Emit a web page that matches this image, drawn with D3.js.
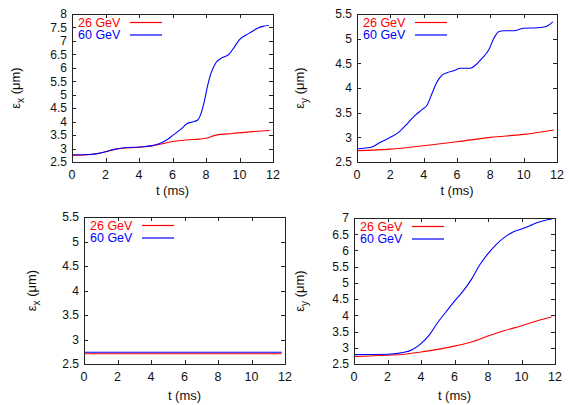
<!DOCTYPE html>
<html>
<head>
<meta charset="utf-8">
<script src="https://cdn.jsdelivr.net/npm/d3@7"></script>
<style>
  body { margin: 0; background: #fff; }
  svg { display: block; font-family: "Liberation Sans", Arial, sans-serif; }
</style>
</head>
<body>
<svg id="chart" width="569" height="405"></svg>
<script>
// ---- data (t in ms, emittance in um) ----
// top-left : eps_x
var tlT26 = [0, 1.4, 2, 2.5, 3, 4, 4.8, 5.4, 6, 6.8, 7.6, 8, 8.6, 9.6, 10.6, 11.8];
var tlE26 = [2.74, 2.8, 2.88, 2.96, 3.01, 3.05, 3.1, 3.18, 3.26, 3.32, 3.35, 3.38, 3.5, 3.56, 3.62, 3.67];
var tlT60 = [0, 1, 1.5, 2, 2.5, 3, 4, 4.6, 5.2, 5.6, 6, 6.5, 6.9, 7.2, 7.5, 7.7, 7.9, 8.1, 8.3, 8.6, 8.9, 9.4, 9.7, 10, 10.4, 10.7, 11.1, 11.4, 11.75];
var tlE60 = [2.77, 2.78, 2.81, 2.88, 2.97, 3.02, 3.06, 3.09, 3.18, 3.3, 3.48, 3.72, 3.94, 3.99, 4.06, 4.3, 4.75, 5.35, 5.8, 6.2, 6.35, 6.52, 6.78, 7.05, 7.22, 7.33, 7.48, 7.54, 7.57];

// top-right : eps_y
var trT26 = [0, 2, 4, 6, 8, 10, 11.8];
var trE26 = [2.73, 2.76, 2.83, 2.91, 3.0, 3.06, 3.15];
var trT60 = [0, 0.85, 1.4, 2, 2.5, 3, 3.5, 3.9, 4.2, 4.5, 4.8, 5.1, 5.4, 5.8, 6.2, 6.8, 7.1, 7.5, 7.9, 8.2, 8.5, 8.8, 9.4, 10, 10.8, 11.3, 11.75];
var trE60 = [2.77, 2.8, 2.9, 3.0, 3.1, 3.27, 3.45, 3.56, 3.65, 3.89, 4.12, 4.26, 4.31, 4.35, 4.4, 4.4, 4.46, 4.6, 4.77, 5.0, 5.14, 5.16, 5.16, 5.21, 5.22, 5.24, 5.34];

// bottom-left : eps_x
var blT26 = [0, 11.8];
var blE26 = [2.71, 2.71];
var blT60 = [0, 11.8];
var blE60 = [2.74, 2.74];

// bottom-right : eps_y
var brT26 = [0, 2, 3, 4, 5, 6, 7, 8, 9, 10, 11, 11.8];
var brE26 = [2.73, 2.77, 2.8, 2.87, 2.95, 3.05, 3.18, 3.36, 3.53, 3.68, 3.84, 3.95];
var brT60 = [0, 2, 3, 3.5, 4, 4.5, 5, 5.5, 6, 6.5, 7, 7.5, 8, 8.5, 9, 9.5, 10, 10.5, 11, 11.5, 11.8];
var brE60 = [2.79, 2.8, 2.86, 2.95, 3.13, 3.4, 3.78, 4.11, 4.44, 4.74, 5.1, 5.55, 5.9, 6.19, 6.41, 6.57, 6.66, 6.76, 6.87, 6.94, 6.96];

var xTicks = [0, 2, 4, 6, 8, 10, 12];
var seriesNames = ["26 GeV", "60 GeV"];
var seriesColors = ["#ff0000", "#0000ff"];

// panel layout (frame in pixels)
var panels = [
  {left: 72,  top: 14,  right: 273, bottom: 162, ymax: 8,   sub: "x", t: [tlT26, tlT60], e: [tlE26, tlE60], ylabX: 20,  xlabY: 195},
  {left: 357, top: 14,  right: 557, bottom: 162, ymax: 5.5, sub: "y", t: [trT26, trT60], e: [trE26, trE60], ylabX: 304, xlabY: 195},
  {left: 84,  top: 217, right: 285, bottom: 364, ymax: 5.5, sub: "x", t: [blT26, blT60], e: [blE26, blE60], ylabX: 36,  xlabY: 400},
  {left: 354, top: 218, right: 555, bottom: 364, ymax: 7,   sub: "y", t: [brT26, brT60], e: [brE26, brE60], ylabX: 304, xlabY: 400}
];

var svg = d3.select("#chart");
var tickLen = 4;

panels.forEach(function(p) {
  var x = d3.scaleLinear().domain([0, 12]).range([p.left, p.right]);
  var y = d3.scaleLinear().domain([2.5, p.ymax]).range([p.bottom, p.top]);
  var yTicks = d3.range(2.5, p.ymax + 0.01, 0.5);
  var g = svg.append("g");

  // mirrored inward ticks, gnuplot style
  g.selectAll(".xt").data(xTicks).enter().append("path")
    .attr("d", function(d) {
      var px = Math.round(x(d)) + 0.5;
      return "M" + px + "," + p.bottom + "v" + (-tickLen) + "M" + px + "," + p.top + "v" + tickLen;
    })
    .attr("stroke", "#222").attr("stroke-width", 1);
  g.selectAll(".yt").data(yTicks).enter().append("path")
    .attr("d", function(d) {
      var py = Math.round(y(d)) + 0.5;
      return "M" + p.left + "," + py + "h" + tickLen + "M" + p.right + "," + py + "h" + (-tickLen);
    })
    .attr("stroke", "#222").attr("stroke-width", 1);

  // tick labels
  g.selectAll(".xl").data(xTicks).enter().append("text")
    .attr("x", function(d) { return x(d); })
    .attr("y", p.bottom + 17)
    .attr("text-anchor", "middle")
    .attr("font-size", 12.5).attr("fill", "#111")
    .text(function(d) { return d; });
  g.selectAll(".yl").data(yTicks).enter().append("text")
    .attr("x", p.left - 5)
    .attr("y", function(d) { return y(d) + 4.3; })
    .attr("text-anchor", "end")
    .attr("font-size", 12).attr("fill", "#111")
    .text(function(d) { return d; });

  // curves
  var line = d3.line()
    .x(function(d) { return x(d[0]); })
    .y(function(d) { return y(d[1]); })
    .curve(d3.curveMonotoneX);
  [0, 1].forEach(function(i) {
    var pts = p.t[i].map(function(t, k) { return [t, p.e[i][k]]; });
    g.append("path")
      .attr("d", line(pts))
      .attr("fill", "none")
      .attr("stroke", seriesColors[i])
      .attr("stroke-width", 1.1);
  });

  // frame
  g.append("rect")
    .attr("x", p.left + 0.5).attr("y", p.top + 0.5)
    .attr("width", p.right - p.left).attr("height", p.bottom - p.top)
    .attr("fill", "none").attr("stroke", "#222").attr("stroke-width", 1);

  // legend
  seriesNames.forEach(function(name, i) {
    var ly = p.top + 8.5 + i * 12.5;
    g.append("text")
      .attr("x", p.left + 6).attr("y", ly + 4.3)
      .attr("font-size", 12.5).attr("fill", seriesColors[i])
      .text(name);
    g.append("line")
      .attr("x1", p.left + 58).attr("x2", p.left + 90)
      .attr("y1", ly).attr("y2", ly)
      .attr("stroke", seriesColors[i]).attr("stroke-width", 1.2);
  });

  // axis titles
  g.append("text")
    .attr("x", (p.left + p.right) / 2).attr("y", p.xlabY)
    .attr("text-anchor", "middle")
    .attr("font-size", 13).attr("fill", "#111")
    .text("t (ms)");
  var yl = g.append("text")
    .attr("transform", "translate(" + p.ylabX + "," + ((p.top + p.bottom) / 2) + ") rotate(-90)")
    .attr("text-anchor", "middle")
    .attr("font-size", 13).attr("fill", "#111");
  yl.append("tspan").text("\u03b5");
  yl.append("tspan").attr("font-size", 10).attr("dy", 4).text(p.sub);
  yl.append("tspan").attr("dy", -4).text(" (\u03bcm)");
});
</script>
</body>
</html>
